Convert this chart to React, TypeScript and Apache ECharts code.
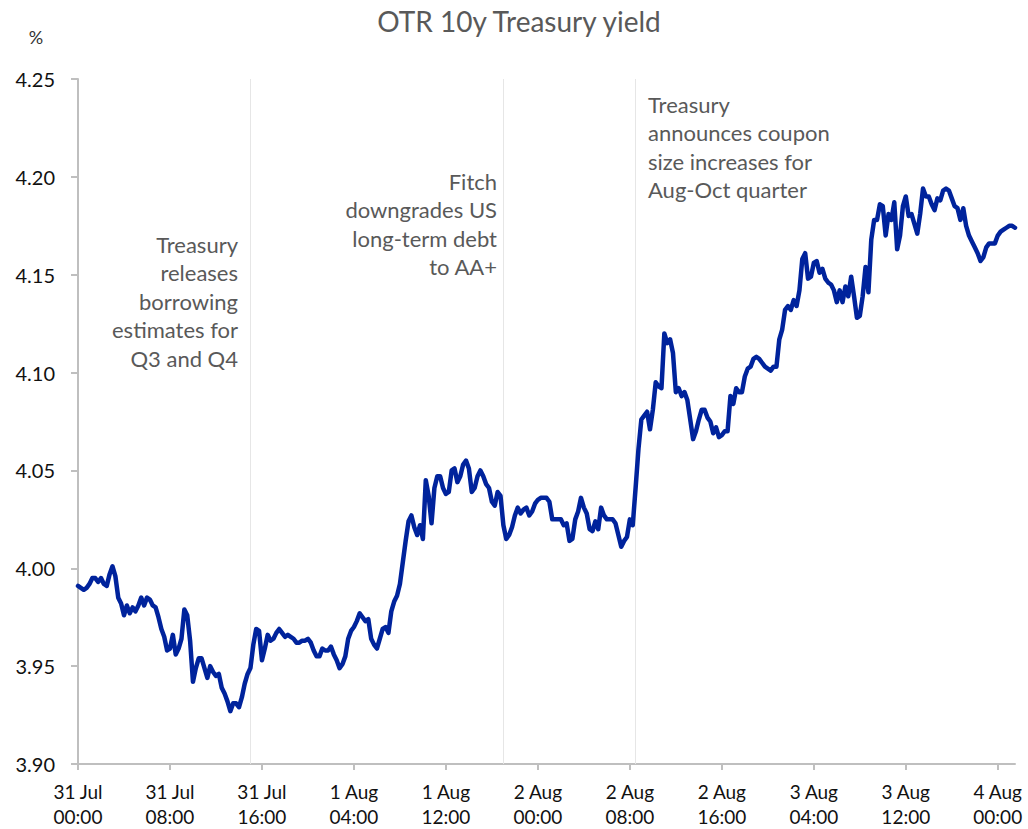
import React, { useEffect, useRef } from 'react';
import * as echarts from 'echarts';

// x-axis tick labels (one every 32 samples)
const tickLabels: string[] = [
  '31 Jul\n00:00', '31 Jul\n08:00', '31 Jul\n16:00', '1 Aug\n04:00', '1 Aug\n12:00',
  '2 Aug\n00:00', '2 Aug\n08:00', '2 Aug\n16:00', '3 Aug\n04:00', '3 Aug\n12:00', '4 Aug\n00:00',
];
const samplesPerTick = 32;

// OTR 10y Treasury yield, %
const yields: number[] = [
  3.991, 3.990, 3.989, 3.990, 3.992, 3.995, 3.995, 3.993, 3.995, 3.992,
  3.991, 3.997, 4.001, 3.996, 3.985, 3.982, 3.976, 3.981, 3.977, 3.980,
  3.978, 3.981, 3.985, 3.981, 3.985, 3.984, 3.981, 3.980, 3.975, 3.969,
  3.965, 3.958, 3.959, 3.966, 3.956, 3.959, 3.964, 3.979, 3.976, 3.963,
  3.942, 3.949, 3.954, 3.954, 3.949, 3.944, 3.950, 3.947, 3.945, 3.946,
  3.939, 3.936, 3.932, 3.927, 3.931, 3.931, 3.929, 3.934, 3.941, 3.946,
  3.949, 3.961, 3.969, 3.968, 3.953, 3.959, 3.966, 3.963, 3.964, 3.967,
  3.969, 3.967, 3.965, 3.966, 3.965, 3.964, 3.962, 3.962, 3.963, 3.963,
  3.964, 3.962, 3.958, 3.955, 3.955, 3.959, 3.958, 3.958, 3.960, 3.956,
  3.953, 3.949, 3.951, 3.955, 3.964, 3.968, 3.970, 3.973, 3.977, 3.975,
  3.973, 3.974, 3.964, 3.961, 3.959, 3.964, 3.969, 3.970, 3.967, 3.978,
  3.983, 3.986, 3.992, 4.003, 4.014, 4.024, 4.027, 4.021, 4.017, 4.022,
  4.015, 4.045, 4.037, 4.023, 4.041, 4.047, 4.047, 4.041, 4.038, 4.039,
  4.050, 4.051, 4.044, 4.047, 4.053, 4.055, 4.051, 4.039, 4.041, 4.047,
  4.050, 4.047, 4.043, 4.041, 4.034, 4.032, 4.039, 4.037, 4.022, 4.015,
  4.017, 4.021, 4.027, 4.031, 4.028, 4.030, 4.031, 4.027, 4.029, 4.033,
  4.035, 4.036, 4.036, 4.036, 4.034, 4.025, 4.025, 4.025, 4.025, 4.022,
  4.023, 4.014, 4.015, 4.025, 4.029, 4.036, 4.031, 4.028, 4.020, 4.019,
  4.024, 4.020, 4.031, 4.027, 4.025, 4.025, 4.025, 4.023, 4.017, 4.011,
  4.014, 4.016, 4.025, 4.022, 4.041, 4.061, 4.076, 4.078, 4.080, 4.071,
  4.081, 4.095, 4.093, 4.092, 4.120, 4.115, 4.117, 4.110, 4.090, 4.092,
  4.088, 4.090, 4.086, 4.076, 4.066, 4.070, 4.076, 4.081, 4.081, 4.077,
  4.075, 4.069, 4.072, 4.067, 4.068, 4.070, 4.070, 4.088, 4.084, 4.092,
  4.090, 4.090, 4.098, 4.102, 4.103, 4.107, 4.108, 4.107, 4.105, 4.103,
  4.102, 4.101, 4.103, 4.103, 4.117, 4.122, 4.132, 4.134, 4.132, 4.137,
  4.134, 4.142, 4.158, 4.161, 4.148, 4.149, 4.156, 4.157, 4.151, 4.153,
  4.148, 4.146, 4.145, 4.142, 4.136, 4.142, 4.136, 4.144, 4.139, 4.149,
  4.139, 4.128, 4.129, 4.139, 4.154, 4.141, 4.168, 4.178, 4.178, 4.186,
  4.185, 4.170, 4.181, 4.178, 4.187, 4.163, 4.170, 4.185, 4.190, 4.180,
  4.181, 4.176, 4.171, 4.181, 4.194, 4.190, 4.190, 4.186, 4.183, 4.189,
  4.188, 4.193, 4.194, 4.193, 4.189, 4.185, 4.184, 4.178, 4.184, 4.175,
  4.170, 4.167, 4.164, 4.161, 4.157, 4.159, 4.164, 4.166, 4.166, 4.166,
  4.170, 4.172, 4.173, 4.174, 4.175, 4.175, 4.174,
];

// sample index of each event marker line
const eventIndex: number[] = [60, 148, 194];

const titleText = 'OTR 10y Treasury yield';
const unitText = '%';
const noteReleases = 'Treasury\nreleases\nborrowing\nestimates for\nQ3 and Q4';
const noteFitch = 'Fitch\ndowngrades US\nlong-term debt\nto AA+';
const noteCoupon = 'Treasury\nannounces coupon\nsize increases for\nAug-Oct quarter';

const FONT = 'Lato, "Noto Sans", "DejaVu Sans", sans-serif';

export default function App() {
  const ref = useRef<HTMLDivElement>(null);

  useEffect(() => {
    if (!ref.current) return;
    const chart = echarts.init(ref.current, undefined, { renderer: 'svg' });
    const categories = yields.map((_, i) =>
      i % samplesPerTick === 0 ? tickLabels[i / samplesPerTick] ?? '' : ''
    );
    const noteStyle = { fill: '#595959', fontSize: 22, fontFamily: FONT, lineHeight: 28.5 };
    chart.setOption({
      animation: false,
      backgroundColor: '#ffffff',
      grid: { left: 78, right: 13, top: 79, bottom: 62, containLabel: false },
      xAxis: {
        type: 'category',
        data: categories,
        boundaryGap: false,
        axisLine: { show: true, lineStyle: { color: '#BFBFBF', width: 2 } },
        axisTick: { show: true, interval: samplesPerTick - 1, length: 6, lineStyle: { color: '#BFBFBF', width: 2 } },
        axisLabel: {
          interval: samplesPerTick - 1,
          color: '#111111',
          fontSize: 19,
          fontFamily: FONT,
          lineHeight: 25,
          margin: 15,
        },
        splitLine: { show: false },
      },
      yAxis: {
        type: 'value',
        min: 3.9,
        max: 4.25,
        interval: 0.05,
        axisLine: { show: true, lineStyle: { color: '#BFBFBF', width: 2 } },
        axisTick: { show: true, length: 7, lineStyle: { color: '#BFBFBF', width: 2 } },
        axisLabel: {
          color: '#111111',
          fontSize: 20,
          fontFamily: FONT,
          margin: 23,
          formatter: (v: number) => v.toFixed(2),
        },
        splitLine: { show: false },
      },
      series: [
        {
          type: 'line',
          data: yields,
          symbol: 'none',
          lineStyle: { color: '#00239C', width: 4.5, join: 'round', cap: 'round' },
          z: 3,
          markLine: {
            silent: true,
            symbol: 'none',
            label: { show: false },
            lineStyle: { color: '#E6E6E6', width: 1, type: 'solid' },
            data: eventIndex.map((i) => ({ xAxis: i })),
            z: 1,
          },
        },
      ],
      graphic: [
        {
          type: 'text', x: 519, y: 21,
          style: { text: titleText, fill: '#595959', fontSize: 28, fontFamily: FONT, align: 'center', verticalAlign: 'middle' },
        },
        {
          type: 'text', x: 36, y: 37,
          style: { text: unitText, fill: '#333333', fontSize: 18, fontFamily: FONT, align: 'center', verticalAlign: 'middle' },
        },
        {
          type: 'text', x: 238, y: 230,
          style: { ...noteStyle, text: noteReleases, align: 'right', verticalAlign: 'top' },
        },
        {
          type: 'text', x: 497, y: 167,
          style: { ...noteStyle, text: noteFitch, align: 'right', verticalAlign: 'top' },
        },
        {
          type: 'text', x: 648, y: 90,
          style: { ...noteStyle, text: noteCoupon, align: 'left', verticalAlign: 'top' },
        },
      ],
    });
    return () => chart.dispose();
  }, []);

  return (
    <div
      ref={ref}
      style={{ position: 'absolute', left: 0, top: 0, width: 1028, height: 829 }}
    />
  );
}
